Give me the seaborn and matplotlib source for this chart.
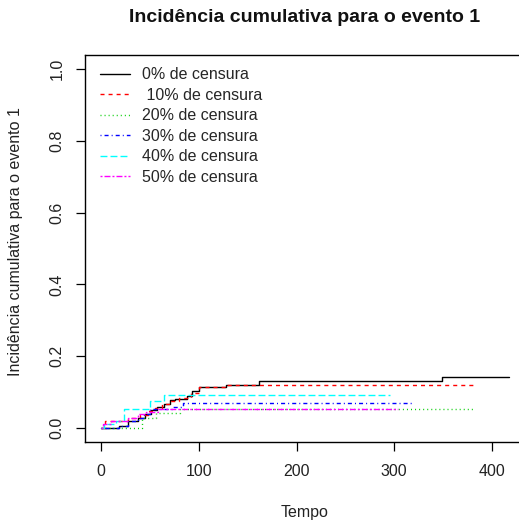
import matplotlib
matplotlib.use("Agg")
import matplotlib.pyplot as plt
import seaborn as sns
import pandas as pd

# Cumulative incidence of event 1 for each censoring level (step functions)
labels = ["0% de censura", " 10% de censura", "20% de censura",
          "30% de censura", "40% de censura", "50% de censura"]

t0 = [0, 18, 28, 38, 45, 51, 57, 64, 71, 76, 88, 93, 100, 128, 162, 349, 417]
v0 = [0, 0.007, 0.021, 0.028, 0.039, 0.049, 0.058, 0.067, 0.077, 0.081, 0.088,
      0.103, 0.113, 0.121, 0.132, 0.142, 0.142]

t10 = [0, 4, 28, 40, 48, 55, 62, 70, 80, 92, 100, 128, 384]
v10 = [0, 0.021, 0.029, 0.037, 0.047, 0.056, 0.066, 0.075, 0.085, 0.097, 0.113,
       0.121, 0.121]

t20 = [0, 42, 56, 81, 381]
v20 = [0, 0.029, 0.043, 0.052, 0.052]

t30 = [0, 18, 28, 38, 44, 50, 74, 84, 318]
v30 = [0, 0.007, 0.021, 0.028, 0.039, 0.052, 0.060, 0.071, 0.071]

t40 = [0, 3, 15, 23, 50, 64, 296]
v40 = [0, 0.011, 0.021, 0.052, 0.075, 0.092, 0.092]

t50 = [0, 2, 10, 28, 38, 46, 58, 304]
v50 = [0, 0.010, 0.020, 0.028, 0.039, 0.046, 0.052, 0.052]

times = [t0, t10, t20, t30, t40, t50]
values = [v0, v10, v20, v30, v40, v50]

colors = ["black", "#FF0000", "#00CD00", "#0000FF", "#00FFFF", "#FF00FF"]
dash_styles = ["", (2.9, 2.9), (0.72, 2.2), (0.72, 2.2, 2.9, 2.2),
               (5.0, 2.2), (1.44, 1.44, 4.3, 1.44)]

sns.set_theme(style="ticks")
plt.rcParams["font.family"] = ["Liberation Sans", "DejaVu Sans"]

frames = []
for lab, tt, vv in zip(labels, times, values):
    frames.append(pd.DataFrame({"Tempo": tt, "CI": vv, "grupo": lab}))
df = pd.concat(frames, ignore_index=True)

fig = plt.figure(figsize=(5.19, 5.24), dpi=100)
ax = fig.add_axes([0.163, 0.1557, 0.8543, 0.740])

sns.lineplot(data=df, x="Tempo", y="CI", hue="grupo", style="grupo",
             hue_order=labels, style_order=labels,
             palette=dict(zip(labels, colors)),
             dashes=dict(zip(labels, dash_styles)),
             estimator=None, sort=False, drawstyle="steps-post",
             linewidth=1.0, legend=False, ax=ax)

ax.set_xlim(-16.8, 436.8)
ax.set_ylim(-0.04, 1.04)
ax.set_xticks([0, 100, 200, 300, 400])
ax.set_yticks([0.0, 0.2, 0.4, 0.6, 0.8, 1.0])
ax.set_yticklabels(["0.0", "0.2", "0.4", "0.6", "0.8", "1.0"])
ax.set_xlabel("")
ax.set_ylabel("")
for s in ax.spines.values():
    s.set_visible(True)
    s.set_linewidth(1.0)
    s.set_color("black")
ax.tick_params(axis="both", length=6.3, width=0.9, color="black",
               labelsize=11.5, labelcolor="#222222")
ax.tick_params(axis="x", pad=9)
ax.tick_params(axis="y", pad=8)
plt.setp(ax.get_yticklabels(), rotation=90, va="center")

handles = ax.get_lines()[:len(labels)]
ax.legend(handles, labels, loc="upper left", bbox_to_anchor=(0.035, 0.967),
          frameon=False, fontsize=11.5, handlelength=1.85, handletextpad=0.8,
          labelspacing=0.34, borderpad=0, borderaxespad=0)

fig.text(305 / 519, 1 - 18 / 524, "Incidência cumulativa para o evento 1",
         ha="center", va="center", fontsize=14, fontweight="bold",
         color="#111111")
fig.text(305 / 519, 1 - 513 / 524, "Tempo", ha="center", va="center",
         fontsize=11.5, color="#222222")
fig.text(16 / 519, 1 - 242 / 524, "Incidência cumulativa para o evento 1",
         ha="center", va="center", rotation=90, fontsize=11.5,
         color="#222222")

fig.savefig("out.png", dpi=100, facecolor="white")
